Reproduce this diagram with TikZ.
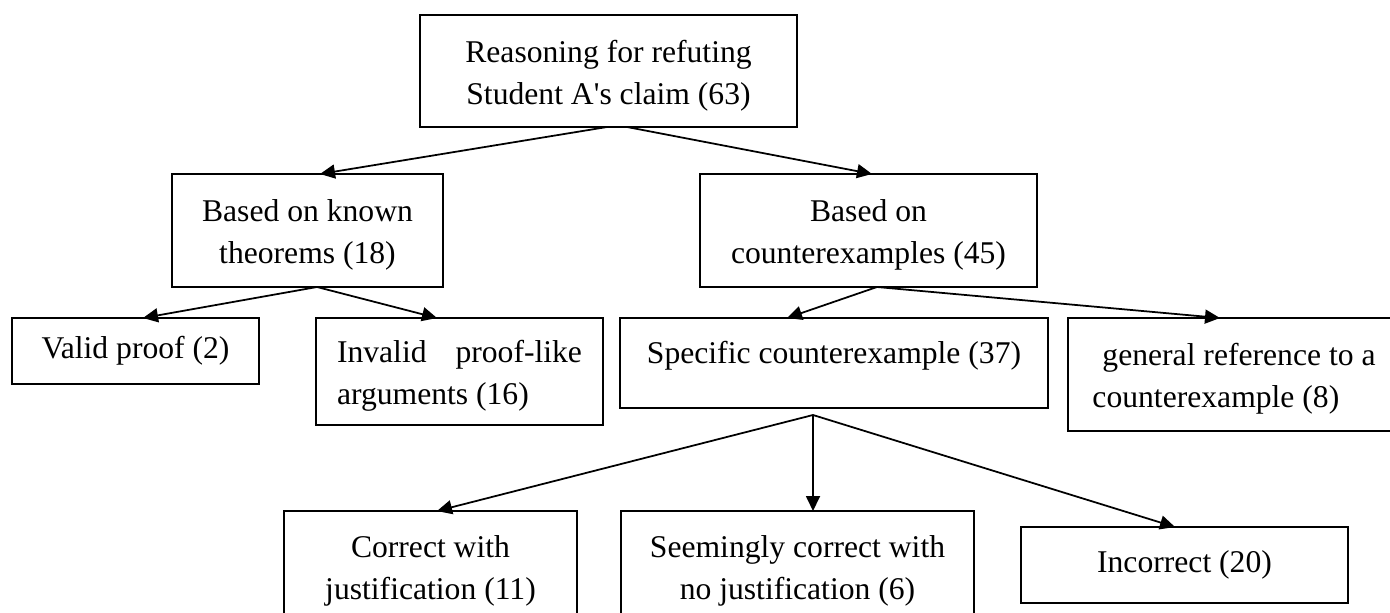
\documentclass[tikz,border=0pt]{standalone}
\usepackage{fontspec}
\setmainfont{Liberation Serif}
\usetikzlibrary{positioning}
\usetikzlibrary{arrows.meta}

\newcommand{\tallstrut}{\rule{0pt}{0.62cm}}

\tikzset{
  box/.style={draw, line width=1pt, align=center, inner sep=0pt, outer sep=0pt, font=\fontsize{18pt}{24pt}\selectfont},
  link/.style={line width=1pt, -{Triangle[length=0.3cm, width=0.28cm]}}
}

\begin{document}
\begin{tikzpicture}
  \useasboundingbox (0,0) rectangle (27.8,-12.24);
  \clip (0,0) rectangle (27.8,-12.24);

  \node[box, minimum width=7.54cm, minimum height=2.24cm] (root) at (12.17,-1.42) {\tallstrut Reasoning for refuting\\Student A\textquotesingle s claim (63)};

  \node[box, minimum width=5.42cm, minimum height=2.26cm] (known) at (6.15,-4.61) {\tallstrut Based on known\\theorems (18)};
  \node[box, minimum width=6.74cm, minimum height=2.26cm, right=5.14cm of known] (cex) {\tallstrut Based on\\counterexamples (45)};
  \draw[link] ([xshift=-0.03cm]root.south) -- ([xshift=0.25cm]known.north);
  \draw[link] ([xshift=0.37cm]root.south) -- ([xshift=0.07cm]cex.north);

  \node[box, minimum width=4.94cm, minimum height=1.32cm, anchor=north west] (valid) at (0.24,-6.36) {Valid proof (2)};
  \node[box, align=left, inner xsep=0.42cm, minimum height=2.14cm, right=1.14cm of valid.north east, anchor=north west] (invalid) {\tallstrut\hbox to 4.9cm{Invalid\hfill proof-like}\\arguments (16)};
  \node[box, minimum width=8.56cm, minimum height=1.8cm, text height=0.4cm, text depth=0.4cm, right=0.34cm of invalid.north east, anchor=north west] (specific) {Specific counterexample (37)};
  \node[box, align=left, minimum width=6.64cm, minimum height=2.26cm, right=0.4cm of specific.north east, anchor=north west] (general) {\tallstrut\hspace*{0.2cm}general reference to a\\counterexample (8)};
  \draw[link] ([xshift=0.19cm]known.south) -- ([xshift=0.15cm]valid.north);
  \draw[link] ([xshift=0.19cm]known.south) -- ([xshift=-0.45cm]invalid.north);
  \draw[link] ([xshift=0.17cm]cex.south) -- ([xshift=-0.94cm]specific.north);
  \draw[link] ([xshift=0.17cm]cex.south) -- ([xshift=-0.28cm]general.north);

  \node[box, minimum width=5.86cm, minimum height=2.2cm, anchor=north west] (correct) at (5.68,-10.22) {\tallstrut Correct with\\justification (11)};
  \node[box, minimum width=7.06cm, minimum height=2.2cm, right=0.88cm of correct.north east, anchor=north west] (seemingly) {\tallstrut Seemingly correct with\\no justification (6)};
  \node[box, minimum width=6.54cm, minimum height=1.52cm, right=0.94cm of seemingly.north east, anchor=north west, yshift=-0.32cm] (incorrect) {Incorrect (20)};
  \coordinate (fan) at ([xshift=-0.42cm, yshift=-0.14cm]specific.south);
  \draw[link] (fan) -- ([xshift=0.13cm]correct.north);
  \draw[link] (fan) -- ([xshift=0.31cm]seemingly.north);
  \draw[link] (fan) -- ([xshift=-0.19cm]incorrect.north);
\end{tikzpicture}
\end{document}
